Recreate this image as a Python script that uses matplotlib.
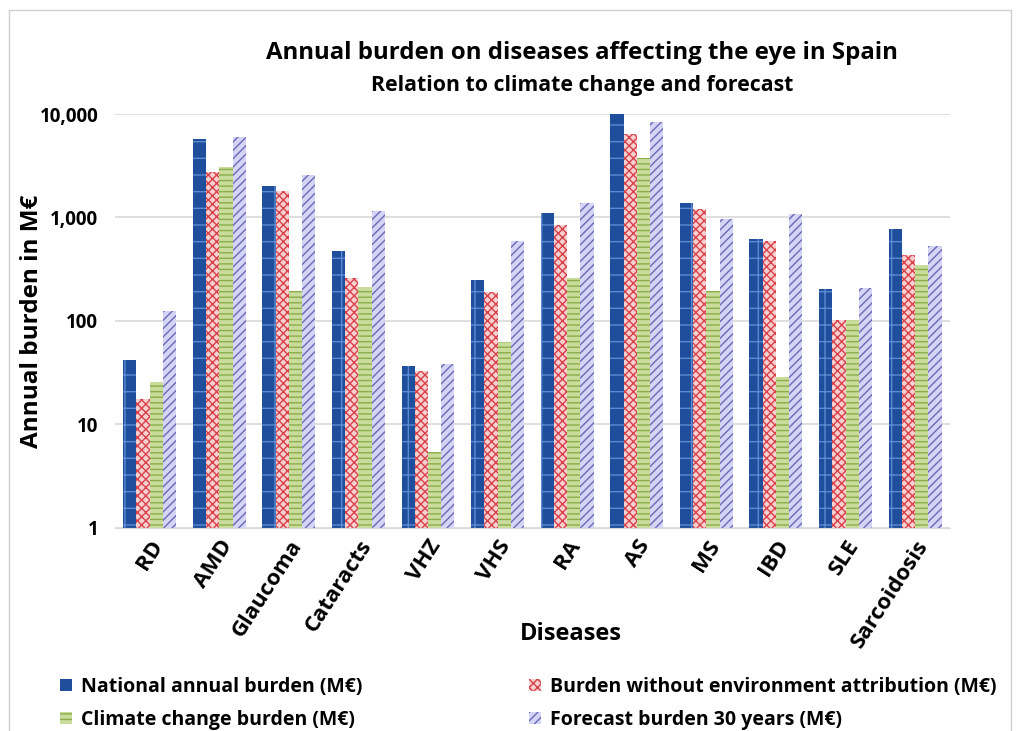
import matplotlib.pyplot as plt
import numpy as np
from matplotlib.patches import Rectangle

plt.rcParams['font.family'] = ['Open Sans', 'DejaVu Sans']
plt.rcParams['hatch.linewidth'] = 1.0

# Data (M€, log scale)
diseases = ['RD', 'AMD', 'Glaucoma', 'Cataracts', 'VHZ', 'VHS', 'RA', 'AS',
            'MS', 'IBD', 'SLE', 'Sarcoidosis']
national = [41, 5700, 2000, 475, 36, 250, 1100, 10200, 1380, 620, 204, 780]
no_env = [16.5, 2750, 1800, 260, 31.5, 190, 850, 6400, 1200, 590, 102, 435]
climate = [24.6, 3070, 195, 213, 4.4, 62, 260, 3750, 195, 27.5, 100, 347]
forecast = [125, 6000, 2600, 1150, 37.5, 590, 1380, 8400, 970, 1080, 209, 530]

series_names = ['National annual burden (M€)',
                'Burden without environment attribution (M€)',
                'Climate change burden (M€)',
                'Forecast burden 30 years (M€)']

# (face colour, hatch colour, hatch)
styles = [('#1f4f9c', '#5d8ad0', '+'),
          ('#f6d0d0', '#d8404a', 'xxxx'),
          ('#c9dc9c', '#8aad4a', '---'),
          ('#d4d4f6', '#6a6ab4', '////')]

fig = plt.figure(figsize=(10.17, 7.31), dpi=100)
ax = fig.add_axes([0.113, 0.278, 0.821, 0.566])

x = np.arange(len(diseases))
width = 0.19
all_series = [national, no_env, climate, forecast]
bars = []
for i, (vals, name, (fc, hc, hatch)) in enumerate(zip(all_series, series_names, styles)):
    b = ax.bar(x + (i - 1.5) * width, vals, width, bottom=1, color=fc,
               edgecolor=hc, linewidth=0, hatch=hatch, label=name)
    bars.append(b)

ax.set_yscale('log')
ax.set_ylim(1, 10000)
ax.set_xlim(-0.5, len(diseases) - 0.5)
ax.set_yticks([1, 10, 100, 1000, 10000])
ax.set_yticklabels(['1', '10', '100', '1,000', '10,000'], fontsize=13.5, fontweight='bold')
ax.minorticks_off()
ax.yaxis.grid(True, color='#d9d9d9', linewidth=1.2)
ax.set_axisbelow(True)
ax.tick_params(axis='y', length=0, pad=12)
ax.tick_params(axis='x', length=0, pad=6)
for s in ['top', 'right', 'left']:
    ax.spines[s].set_visible(False)
ax.spines['bottom'].set_color('#d9d9d9')

ax.set_xticks(x)
ax.set_xticklabels(diseases, rotation=57, ha='right', rotation_mode='anchor',
                   fontsize=16, fontweight='bold')

ax.set_ylabel('Annual burden in M€', fontsize=17.5, fontweight='bold')
ax.yaxis.set_label_coords(-0.085, 0.5)
ax.set_xlabel('Diseases', fontsize=17, fontweight='bold')
ax.xaxis.set_label_coords(0.546, -0.228)

fig.text(0.572, 0.928, 'Annual burden on diseases affecting the eye in Spain',
         ha='center', va='center', fontsize=17.3, fontweight='bold')
fig.text(0.572, 0.883, 'Relation to climate change and forecast',
         ha='center', va='center', fontsize=15.3, fontweight='bold')

# row-wise legend order, as in the reference
order = [0, 2, 1, 3]
leg = fig.legend([bars[k] for k in order], [series_names[k] for k in order],
                 loc='lower left', bbox_to_anchor=(0.042, -0.022), ncol=2,
                 frameon=False, handlelength=0.6, handleheight=0.6,
                 handletextpad=0.45, columnspacing=8.6, labelspacing=0.65,
                 prop={'weight': 'bold', 'size': 14})

fig.patches.append(Rectangle((0.009, -0.1), 0.985, 1.087, transform=fig.transFigure,
                             fill=False, edgecolor='#d0d0d0', linewidth=1))

fig.savefig('out.png', dpi=100)
